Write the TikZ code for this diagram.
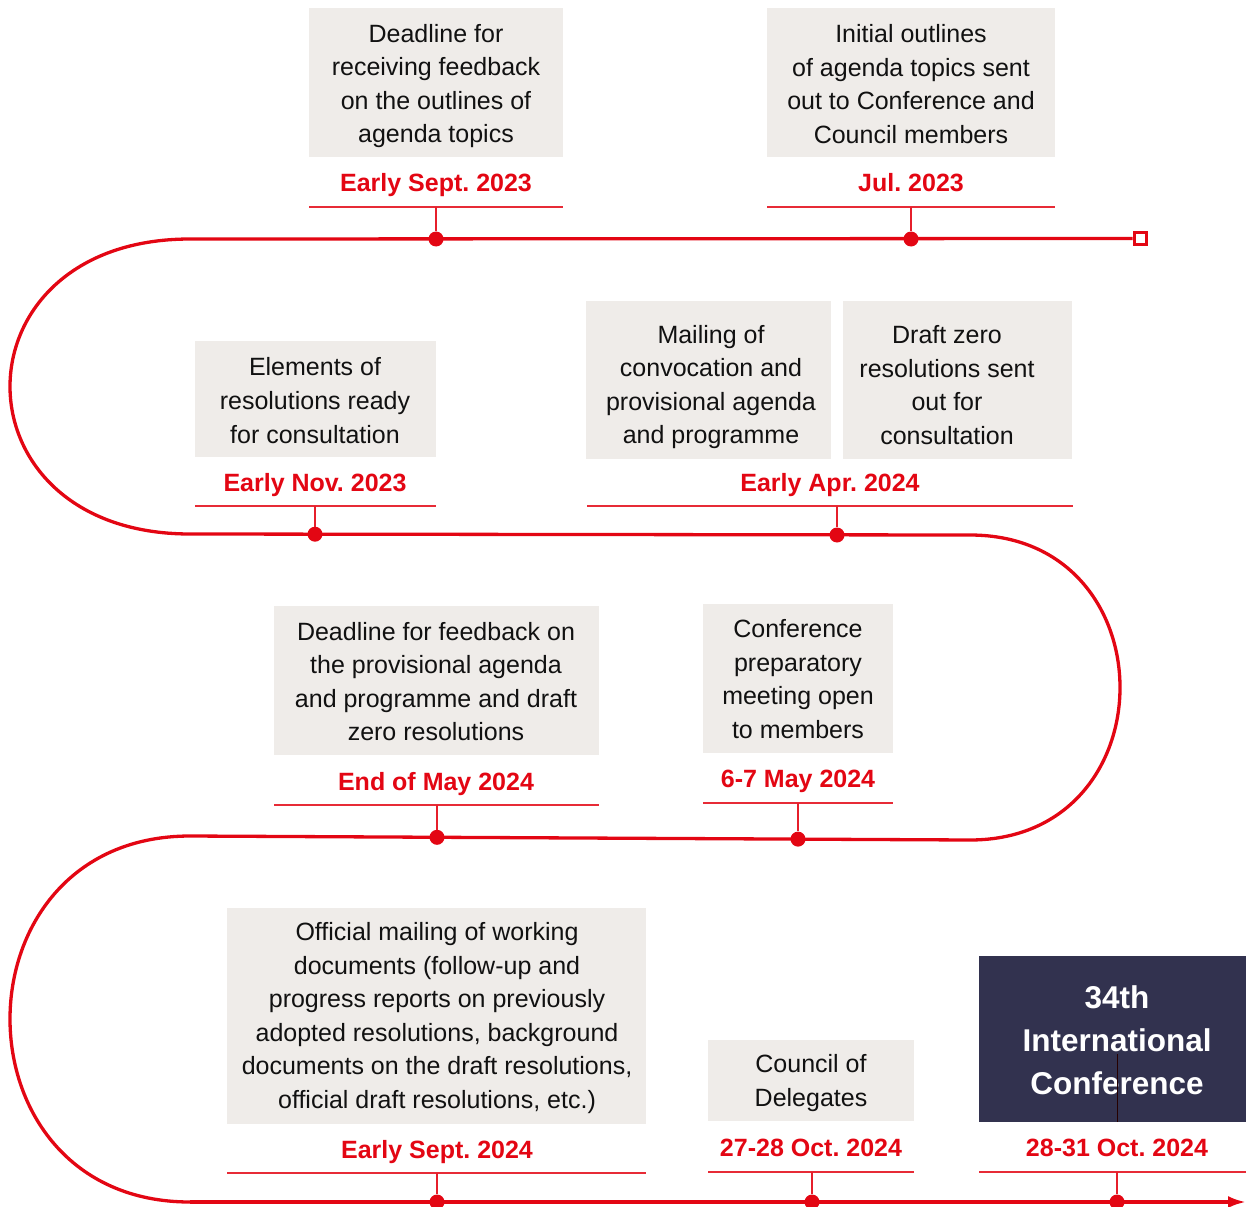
\documentclass[tikz,border=0pt]{standalone}
\usepackage{fontspec}
\setmainfont{Liberation Sans}
\usetikzlibrary{arrows.meta}
\definecolor{tlred}{HTML}{E30613}
\definecolor{boxgray}{HTML}{EFECE9}
\definecolor{navy}{HTML}{32324F}
\definecolor{txtdark}{HTML}{111111}
\frenchspacing
\tikzset{
  boxg/.style={fill=boxgray, draw=none, inner sep=0pt, rectangle},
  boxd/.style={fill=navy, draw=none, inner sep=0pt, rectangle},
  txt/.style={align=center, font=\fontsize{25}{33.6}\selectfont, text=txtdark, inner sep=0pt},
  bigtxt/.style={align=center, font=\fontsize{31.5}{43}\selectfont\bfseries, text=white, inner sep=0pt},
  datelbl/.style={font=\fontsize{25}{30}\selectfont\bfseries, text=tlred, anchor=base, inner sep=0pt},
  uline/.style={draw=tlred!85, line width=1.6pt},
  tickline/.style={draw=tlred!90, line width=1.6pt},
  dotnode/.style={circle, fill=tlred, minimum size=15pt, inner sep=0pt},
  tl/.style={draw=tlred, line width=3.3pt},
}
\begin{document}
\begin{tikzpicture}[x=1pt,y=-1pt]
\useasboundingbox (0,0) rectangle (1246,1206);

% ---------- boxes ----------
\node[boxg, minimum width=254pt, minimum height=149pt] (bA) at (436,82.5) {};
\node[boxg, minimum width=288pt, minimum height=149pt] (bB) at (911,82.5) {};
\node[boxg, minimum width=241pt, minimum height=116pt] (bC) at (315.5,399) {};
\node[boxg, minimum width=245pt, minimum height=158pt] (bD) at (708.5,380) {};
\node[boxg, minimum width=229pt, minimum height=158pt] (bE) at (957.5,380) {};
\node[boxg, minimum width=325pt, minimum height=149pt] (bF) at (436.5,680.5) {};
\node[boxg, minimum width=190pt, minimum height=149pt] (bG) at (798,678.5) {};
\node[boxg, minimum width=419pt, minimum height=216pt] (bH) at (436.5,1016) {};
\node[boxg, minimum width=206pt, minimum height=81pt] (bI) at (811,1080.5) {};
\node[boxd, minimum width=267pt, minimum height=166pt] (bJ) at (1112.5,1039) {};

% ---------- box texts ----------
\node[txt] (tA) at (436,86) {Deadline for\\receiving feedback\\on the outlines of\\agenda topics};
\node[txt] (tB) at (911,84) {Initial outlines\\of agenda topics sent\\out to Conference and\\Council members};
\node[txt] (tC) at (315,400.5) {Elements of\\resolutions ready\\for consultation};
\node[txt] (tD) at (711,387) {Mailing of\\convocation and\\provisional agenda\\and programme};
\node[txt] (tE) at (947,385) {Draft zero\\resolutions sent\\out for\\consultation};
\node[txt] (tF) at (436,681.5) {Deadline for feedback on\\the provisional agenda\\and programme and draft\\zero resolutions};
\node[txt] (tG) at (798,679) {Conference\\preparatory\\meeting open\\to members};
\node[txt] (tH) at (437,1018) {Official mailing of working\\documents (follow-up and\\progress reports on previously\\adopted resolutions, background\\documents on the draft resolutions,\\official draft resolutions, etc.)};
\node[txt] (tI) at (811,1083) {Council of\\Delegates};
\node[bigtxt] (tJ) at (1117,1040) {34th\\International\\Conference};

% ---------- dates ----------
\node[datelbl] (dA) at (436,192) {Early Sept. 2023};
\node[datelbl] (dB) at (911,192) {Jul. 2023};
\node[datelbl] (dC) at (315,491) {Early Nov. 2023};
\node[datelbl] (dDE) at (830,491) {Early Apr. 2024};
\node[datelbl] (dF) at (436,790) {End of May 2024};
\node[datelbl] (dG) at (798,787) {6-7 May 2024};
\node[datelbl] (dH) at (437,1158) {Early Sept. 2024};
\node[datelbl] (dI) at (811,1156) {27-28 Oct. 2024};
\node[datelbl] (dJ) at (1117,1156) {28-31 Oct. 2024};

% ---------- underlines ----------
\draw[uline] (309,207) -- (563,207);
\draw[uline] (767,207) -- (1055,207);
\draw[uline] (195,506) -- (436,506);
\draw[uline] (587,506) -- (1073,506);
\draw[uline] (274,805) -- (599,805);
\draw[uline] (703,803) -- (893,803);
\draw[uline] (227,1173) -- (646,1173);
\draw[uline] (708,1172) -- (914,1172);
\draw[uline] (979,1172) -- (1246,1172);

\coordinate (uA) at (436,207);
\coordinate (uB) at (911,207);
\coordinate (uC) at (315,506);
\coordinate (uDE) at (837,506);
\coordinate (uF) at (437,805);
\coordinate (uG) at (798,803);
\coordinate (uH) at (437,1173);
\coordinate (uI) at (812,1172);
\coordinate (uJ) at (1117,1172);

% ---------- timeline ----------
\node[draw=tlred, line width=3.3pt, fill=white, minimum size=12.3pt, inner sep=0pt, rectangle] (sq) at (1140.5,238.5) {};
\coordinate (c1) at (190,239);
\coordinate (c2) at (190,534);
\coordinate (c3) at (970,535);
\coordinate (c4) at (970,840);
\coordinate (c5) at (190,836);
\coordinate (c6) at (190,1202);
\coordinate (cend) at (1246,1202);
\draw[tl] (sq.west) -- (c1) .. controls (-50,239) and (-50,534) .. (c2) -- (c3)
  .. controls (1170,535) and (1170,840) .. (c4) -- (c5)
  .. controls (-50,836) and (-50,1202) .. (c6);
\draw[tl, -{Latex[length=18pt,width=12pt]}] (c6) -- (cend);

% ---------- dots ----------
\node[dotnode] (pA) at (436,239) {};
\node[dotnode] (pB) at (911,239) {};
\node[dotnode] (pC) at (315,534.2) {};
\node[dotnode] (pDE) at (837,535) {};
\node[dotnode] (pF) at (437,837.3) {};
\node[dotnode] (pG) at (798,839.1) {};
\node[dotnode] (pH) at (437,1202) {};
\node[dotnode] (pI) at (812,1202) {};
\node[dotnode] (pJ) at (1117,1202) {};

% ---------- ticks ----------
\draw[tickline] (uA) -- (pA);
\draw[tickline] (uB) -- (pB);
\draw[tickline] (uC) -- (pC);
\draw[tickline] (uDE) -- (pDE);
\draw[tickline] (uF) -- (pF);
\draw[tickline] (uG) -- (pG);
\draw[tickline] (uH) -- (pH);
\draw[tickline] (uI) -- (pI);
\draw[tickline] (uJ) -- (pJ);

% dark stub inside conference box
\coordinate (jt) at (1117,1054);
\draw[draw=black!85!red, line width=1pt] (jt) -- (bJ.south -| jt);
\end{tikzpicture}
\end{document}
